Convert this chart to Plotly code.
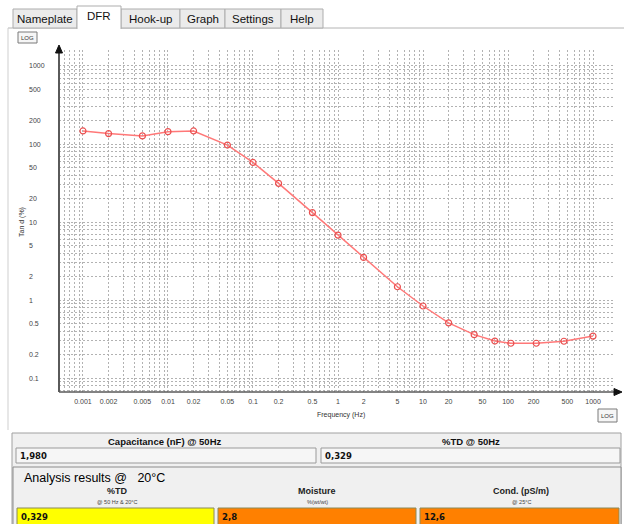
import plotly.graph_objects as go
import math

# ---------------- data ----------------
freq_hz = [0.001, 0.002, 0.005, 0.01, 0.02, 0.05, 0.1, 0.2, 0.5, 1, 2, 5, 10, 20,
           40, 70, 108, 215, 455, 1000]
tan_d_pct = [147, 136, 127, 144, 147, 97, 58, 31.3, 13.2, 6.8, 3.52, 1.48, 0.838,
             0.51, 0.36, 0.298, 0.279, 0.279, 0.296, 0.345]

x_tick_vals = [0.001, 0.002, 0.005, 0.01, 0.02, 0.05, 0.1, 0.2, 0.5, 1, 2, 5, 10, 20,
               50, 100, 200, 500, 1000]
x_tick_text = ["0.001", "0.002", "0.005", "0.01", "0.02", "0.05", "0.1", "0.2", "0.5",
               "1", "2", "5", "10", "20", "50", "100", "200", "500", "1000"]
y_tick_vals = [0.1, 0.2, 0.5, 1, 2, 5, 10, 20, 50, 100, 200, 500, 1000]
y_tick_text = ["0.1", "0.2", "0.5", "1", "2", "5", "10", "20", "50", "100", "200",
               "500", "1000"]

tab_names = ["Nameplate", "DFR", "Hook-up", "Graph", "Settings", "Help"]
active_tab = "DFR"

cap_label = "Capacitance (nF) @ 50Hz"
cap_value = "1,980"
td50_label = "%TD @ 50Hz"
td50_value = "0,329"
analysis_title = "Analysis results @\u00a0\u00a0 20°C"
result_names = ["%TD", "Moisture", "Cond. (pS/m)"]
result_subs = ["@ 50 Hz & 20°C", "%(wt/wt)", "@ 25°C"]
result_values = ["0,329", "2,8", "12,6"]
result_colors = ["#ffff00", "#ff8000", "#ff8000"]

# ---------------- geometry helpers (pixel -> paper) ----------------
W, H = 624, 524
PL, PR, PT, PB = 59, 613, 50, 392


def X(p):
    return (p - PL) / (PR - PL)


def Y(p):
    return (PB - p) / (PB - PT)


XR = [-3.282, 3.235]
YR = [-1.179, 3.205]


def minor_vals(lo, hi, majors):
    out = []
    for d in range(int(math.floor(lo)) - 1, int(math.ceil(hi)) + 1):
        for m in range(1, 10):
            v = m * 10 ** d
            lv = math.log10(v)
            if lo < lv < hi and not any(abs(v - t) / t < 1e-6 for t in majors):
                out.append(v)
    return out


GRID = "#b2b2b2"
GDASH = "2px,2px"

fig = go.Figure()
fig.add_trace(go.Scatter(
    x=freq_hz, y=tan_d_pct, mode="lines+markers",
    line=dict(color="#ff7878", width=1.5),
    marker=dict(symbol="circle-open", size=6, color="#ea5050", line=dict(width=1.2)),
    hoverinfo="x+y", showlegend=False,
))

shapes = []
annots = []

# axes lines + arrows
AX = "#5a5a5a"
shapes.append(dict(type="line", xref="paper", yref="paper", x0=X(59), x1=X(59),
                   y0=Y(392), y1=Y(52), line=dict(color=AX, width=2)))
shapes.append(dict(type="path", xref="paper", yref="paper",
                   path=f"M {X(59)} {Y(45)} L {X(55.5)} {Y(53)} L {X(62.5)} {Y(53)} Z",
                   fillcolor="#111", line=dict(color="#111", width=1)))
shapes.append(dict(type="line", xref="paper", yref="paper", x0=X(59), x1=X(615),
                   y0=Y(392), y1=Y(392), line=dict(color=AX, width=1.5)))
shapes.append(dict(type="path", xref="paper", yref="paper",
                   path=f"M {X(622)} {Y(392)} L {X(614)} {Y(388.5)} L {X(614)} {Y(395.5)} Z",
                   fillcolor="#111", line=dict(color="#111", width=1)))


def text(x, y, t, size, bold=False, anchor="center", color="#111",
         family="Liberation Sans", angle=0):
    if bold:
        t = f"<b>{t}</b>"
    annots.append(dict(xref="paper", yref="paper", x=X(x), y=Y(y), text=t, showarrow=False,
                       xanchor=anchor, yanchor="middle", textangle=angle,
                       font=dict(size=size, color=color, family=family)))


# y tick labels (left aligned, as in the reference)
for v, t in zip(y_tick_vals, y_tick_text):
    annots.append(dict(xref="paper", yref="y", x=X(27), y=math.log10(v), text=t,
                       showarrow=False, xanchor="left", yanchor="middle",
                       font=dict(size=7, color="#444", family="Liberation Sans")))

# axis titles
text(22, 222, "Tan d (%)", 7, color="#333", angle=-90)
text(341, 415, "Frequency (Hz)", 7, color="#333")


def log_box(x0, y0, x1, y1):
    shapes.append(dict(type="rect", xref="paper", yref="paper", x0=X(x0), x1=X(x1),
                       y0=Y(y1), y1=Y(y0), fillcolor="#f6f6f6",
                       line=dict(color="#7a7a7a", width=1)))
    text((x0 + x1) / 2, (y0 + y1) / 2, "LOG", 6, color="#333")


log_box(18, 32, 37, 43)
log_box(598, 409, 617, 422)

# tab bar
tab_x = [(13, 77), (77, 121), (121, 180), (180, 225), (225, 281), (281, 323)]
shapes.append(dict(type="line", xref="paper", yref="paper", x0=X(8), x1=X(624),
                   y0=Y(28), y1=Y(28), line=dict(color="#b4b4b4", width=1)))
shapes.append(dict(type="line", xref="paper", yref="paper", x0=X(8), x1=X(8),
                   y0=Y(28), y1=Y(430), line=dict(color="#cfcfcf", width=1)))
for name, (a, b) in zip(tab_names, tab_x):
    if name == active_tab:
        continue
    shapes.append(dict(type="rect", xref="paper", yref="paper", x0=X(a), x1=X(b),
                       y0=Y(28), y1=Y(9), fillcolor="#ebebeb",
                       line=dict(color="#adadad", width=1)))
    text((a + b) / 2, 18.5, name, 11.5, color="#111")
for name, (a, b) in zip(tab_names, tab_x):
    if name != active_tab:
        continue
    shapes.append(dict(type="path", xref="paper", yref="paper",
                       path=f"M {X(a)} {Y(29)} L {X(a)} {Y(6)} L {X(b)} {Y(6)} L {X(b)} {Y(29)}",
                       fillcolor="#ffffff", line=dict(color="#adadad", width=1)))
    text((a + b) / 2, 16, name, 11.5, color="#111")


# bottom panels
def rect(x0, y0, x1, y1, fill, line="#a0a0a0", w=1):
    shapes.append(dict(type="rect", xref="paper", yref="paper", x0=X(x0), x1=X(x1),
                       y0=Y(y1), y1=Y(y0), fillcolor=fill, line=dict(color=line, width=w)))


rect(12, 433, 621, 540, "#f0f0f0", "#a0a0a0")
rect(16, 448, 316, 463, "#f6f6f6", "#9a9a9a")
rect(321, 448, 620, 463, "#f6f6f6", "#9a9a9a")
text(165, 441, cap_label, 9.5, bold=True)
text(471, 441, td50_label, 9.5, bold=True)
text(18, 456, cap_value, 8.5, bold=True, anchor="left", family="DejaVu Sans")
text(323, 456, td50_value, 8.5, bold=True, anchor="left", family="DejaVu Sans")

rect(13, 467, 621, 540, "#f0f0f0", "#8c8c8c")
text(22, 477.5, analysis_title, 12.5, anchor="left", color="#000")
col_centers = [117, 317, 521]
box_x = [(17, 214), (218, 416), (420, 619)]
for name, sub, val, col, cx, (a, b) in zip(result_names, result_subs, result_values,
                                            result_colors, col_centers, box_x):
    text(cx, 491, name, 9, bold=True, color="#222")
    text(cx, 501.5, sub, 5.5, color="#444")
    rect(a, 508, b, 540, col, "#8a8a5a")
    text(a + 2, 516.5, val, 8.5, bold=True, anchor="left", family="DejaVu Sans")

axis_common = dict(type="log", showline=False, zeroline=False, ticks="",
                   gridcolor=GRID, gridwidth=1, griddash=GDASH, showgrid=True)

fig.update_layout(
    width=W, height=H,
    margin=dict(l=PL, r=W - PR, t=PT, b=H - PB, pad=0),
    paper_bgcolor="#ffffff", plot_bgcolor="#ffffff",
    xaxis=dict(axis_common, range=XR, tickmode="array", tickvals=x_tick_vals,
               ticktext=x_tick_text,
               tickfont=dict(size=7, color="#444", family="Liberation Sans"),
               ticklabelstandoff=4,
               minor=dict(tickmode="array", tickvals=minor_vals(XR[0], XR[1], x_tick_vals),
                          showgrid=True, gridcolor=GRID, gridwidth=1, griddash=GDASH,
                          ticks="")),
    yaxis=dict(axis_common, range=YR, tickmode="array", tickvals=y_tick_vals,
               showticklabels=False,
               minor=dict(tickmode="array", tickvals=minor_vals(YR[0], YR[1], y_tick_vals),
                          showgrid=True, gridcolor=GRID, gridwidth=1, griddash=GDASH,
                          ticks="")),
    shapes=shapes,
    annotations=annots,
    showlegend=False,
    font=dict(family="Liberation Sans"),
)

fig.write_html("out.html", config={"displayModeBar": False},
               post_script="document.body.style.margin='0px';")
